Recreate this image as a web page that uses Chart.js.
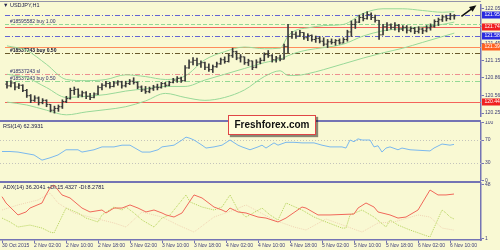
<!DOCTYPE html>
<html>
<head>
<meta charset="utf-8">
<script src="https://cdn.jsdelivr.net/npm/chart.js@4.4.1/dist/chart.umd.min.js"></script>
<style>
  html, body { margin: 0; padding: 0; }
  body { width: 500px; height: 250px; overflow: hidden; position: relative; background: #f9f9d3; }
  .pane { position: absolute; left: 0; width: 500px; }
  .sep { position: absolute; left: 0; width: 481px; height: 2px; background: #7474b4; }
  #wm {
    position: absolute; left: 228px; top: 115px; width: 88px; height: 20px; box-sizing: border-box;
    border: 1.5px solid #e04646; background: #fffedc; box-shadow: 2px 2px 1px rgba(0,0,0,0.45);
    font: bold 10px "Liberation Sans", Arial, sans-serif; line-height: 17px; text-align: center; color: #111;
  }
</style>
</head>
<body>
<div class="pane" style="top:0;height:121px"><canvas id="mainChart"></canvas></div>
<div class="pane" style="top:121px;height:61px"><canvas id="rsiChart"></canvas></div>
<div class="pane" style="top:182px;height:68px"><canvas id="adxChart"></canvas></div>
<div style="position:absolute;left:0;top:1px;width:481px;height:1px;background:#9494aa"></div>
<div class="sep" style="top:120px"></div>
<div class="sep" style="top:181px"></div>
<div id="wm">Freshforex.com</div>
<script>
// --- data ---
const timeLabels = ['30 Oct 2015', '2 Nov 02:00', '2 Nov 10:00', '2 Nov 18:00', '3 Nov 02:00', '3 Nov 10:00',
  '3 Nov 18:00', '4 Nov 02:00', '4 Nov 10:00', '4 Nov 18:00', '5 Nov 02:00', '5 Nov 10:00', '5 Nov 18:00',
  '6 Nov 02:00', '6 Nov 10:00'];
const timeTickIdx = [0, 8, 16, 24, 32, 40, 48, 56, 64, 72, 80, 88, 96, 104, 112];
const priceTicks = [122.05, 121.75, 121.45, 121.15, 120.86, 120.56, 120.25];

// H1 bars: [open, high, low, close]
const candles = [
  [120.75,120.80,120.68,120.72],[120.72,120.81,120.70,120.77],[120.77,120.78,120.65,120.70],[120.70,120.76,120.67,120.73],
  [120.73,120.74,120.62,120.64],[120.64,120.66,120.52,120.55],[120.55,120.57,120.43,120.47],[120.47,120.55,120.45,120.51],
  [120.51,120.53,120.39,120.43],[120.43,120.50,120.41,120.47],[120.47,120.48,120.36,120.40],[120.40,120.40,120.27,120.30],
  [120.30,120.37,120.25,120.33],[120.33,120.39,120.28,120.36],[120.36,120.48,120.33,120.45],[120.45,120.54,120.43,120.50],
  [120.50,120.68,120.49,120.64],[120.64,120.70,120.57,120.66],[120.66,120.67,120.52,120.56],[120.56,120.63,120.53,120.60],
  [120.60,120.62,120.50,120.54],[120.54,120.59,120.48,120.52],[120.52,120.60,120.51,120.58],[120.58,120.72,120.57,120.69],
  [120.69,120.76,120.65,120.73],[120.73,120.80,120.70,120.76],[120.76,120.78,120.68,120.71],[120.71,120.80,120.70,120.77],
  [120.77,120.81,120.73,120.79],[120.79,120.80,120.68,120.72],[120.72,120.80,120.70,120.76],[120.76,120.83,120.74,120.80],
  [120.80,120.86,120.75,120.78],[120.78,120.79,120.67,120.70],[120.70,120.72,120.62,120.65],[120.65,120.71,120.59,120.62],
  [120.62,120.70,120.60,120.67],[120.67,120.73,120.64,120.70],[120.70,120.75,120.65,120.69],[120.69,120.78,120.68,120.76],
  [120.76,120.78,120.70,120.73],[120.73,120.80,120.72,120.78],[120.78,120.85,120.77,120.82],[120.82,120.88,120.78,120.85],
  [120.85,120.87,120.78,120.81],[120.81,121.07,120.80,121.03],[121.03,121.17,121.02,121.13],[121.13,121.21,121.08,121.16],
  [121.16,121.20,121.07,121.10],[121.10,121.15,121.04,121.12],[121.12,121.13,121.00,121.04],[121.04,121.10,120.97,121.00],
  [121.00,121.08,120.95,121.05],[121.05,121.13,121.04,121.10],[121.10,121.20,121.09,121.17],[121.17,121.22,121.11,121.14],
  [121.14,121.27,121.13,121.24],[121.24,121.37,121.21,121.31],[121.31,121.32,121.17,121.20],[121.20,121.26,121.13,121.22],
  [121.22,121.22,121.09,121.12],[121.12,121.18,121.07,121.15],[121.15,121.15,121.00,121.04],[121.04,121.17,121.03,121.13],
  [121.13,121.20,121.10,121.16],[121.16,121.29,121.15,121.26],[121.26,121.33,121.21,121.24],[121.24,121.26,121.13,121.17],
  [121.17,121.23,121.13,121.20],[121.20,121.25,121.15,121.18],[121.18,121.44,121.18,121.40],[121.40,121.78,121.29,121.57],
  [121.57,121.66,121.54,121.61],[121.61,121.65,121.54,121.58],[121.58,121.68,121.57,121.64],[121.64,121.64,121.52,121.55],
  [121.55,121.62,121.50,121.59],[121.59,121.60,121.49,121.52],[121.52,121.58,121.47,121.54],[121.54,121.57,121.46,121.49],
  [121.49,121.55,121.41,121.44],[121.44,121.52,121.38,121.48],[121.48,121.53,121.44,121.47],[121.47,121.52,121.42,121.50],
  [121.50,121.53,121.44,121.46],[121.46,121.55,121.46,121.52],[121.52,121.68,121.49,121.65],[121.65,121.84,121.57,121.78],
  [121.78,121.87,121.71,121.82],[121.82,121.94,121.81,121.90],[121.90,121.97,121.84,121.88],[121.88,122.00,121.87,121.95],
  [121.95,121.98,121.86,121.90],[121.90,121.94,121.82,121.85],[121.85,121.85,121.52,121.60],[121.60,121.78,121.60,121.74],
  [121.74,121.81,121.67,121.77],[121.77,121.79,121.70,121.73],[121.73,121.81,121.68,121.76],[121.76,121.78,121.65,121.70],
  [121.70,121.76,121.67,121.73],[121.73,121.76,121.63,121.68],[121.68,121.74,121.65,121.71],[121.71,121.73,121.62,121.66],
  [121.66,121.74,121.63,121.70],[121.70,121.72,121.62,121.67],[121.67,121.76,121.65,121.72],[121.72,121.79,121.68,121.75],
  [121.75,121.86,121.73,121.83],[121.83,121.89,121.76,121.86],[121.86,121.94,121.83,121.91],[121.91,121.94,121.84,121.88],
  [121.88,121.97,121.86,121.93],[121.93,121.95,121.87,121.93]
];

// Bollinger bands, read at some bars
const bandIdx = [0, 5, 10, 15, 20, 25, 30, 35, 40, 45, 50, 55, 60, 65, 69, 71, 73, 76, 80, 85, 90, 95, 100, 105, 110, 113];
const bandUpper = [121.41,121.33,121.09,120.83,120.81,120.83,120.91,120.88,120.83,120.89,121.17,121.31,121.39,121.36,121.37,121.58,121.68,121.72,121.76,121.78,121.97,122.05,122.05,122.02,121.99,122.00];
const bandMiddle = [120.92,120.86,120.69,120.52,120.54,120.57,120.63,120.67,120.71,120.71,120.82,120.92,121.02,121.12,121.18,121.24,121.29,121.34,121.38,121.44,121.58,121.67,121.71,121.74,121.78,121.82];
const bandLower = [120.44,120.39,120.30,120.22,120.27,120.31,120.36,120.46,120.59,120.52,120.47,120.52,120.65,120.88,120.98,120.90,120.90,120.93,121.00,121.10,121.20,121.29,121.37,121.47,121.57,121.63];

// horizontal levels and order labels
const levelValues = [121.95, 121.78, 121.74, 121.58, 121.39, 121.28, 120.92, 120.80, 120.44];
const orderNotes = ['#18595582 buy 1.00', '#18537243 buy 0.50', '#18537243 sl', '#18537243 buy 0.50'];
const orderNoteLevels = [121.78, 121.28, 120.92, 120.80];
const priceTags = [121.95, 121.74, 121.58, 121.39, 120.44];

// RSI(14)
const rsiTicks = [100, 70, 30, 0];
const rsiLevels = [70, 30];
const rsiIdx = [0,2,4,8,10,12,14,16,19,20,23,25,28,30,32,35,37,39,40,42,43,45,46,47,48,50,51,53,55,57,59,60,62,64,65,66,68,69,71,73,75,78,80,82,85,86,87,88,89,90,92,93,94,95,96,97,99,100,102,107,108,110,112,113];
const rsiValues = [50,50,49,44,35,39,44,53,53,49,53,58,58,61,61,49,49,53,58,60,61,70,75,73,70,61,56,58,61,70,61,58,53,58,61,56,65,61,66,66,65,65,61,58,58,56,70,67,72,70,70,58,60,49,56,58,53,56,53,51,56,63,61,62.39];

// ADX(14)
const adxTicks = [48, 1];
const adxIdx = [0,1,4,6,7,10,11,12,13,14,15,17,20,22,25,26,28,30,32,34,36,38,40,41,43,45,48,50,53,55,56,57,59,61,64,66,69,71,75,76,79,82,88,89,91,93,94,97,99,101,104,107,109,111,113];
const adxValues = [37.4,31.9,21.5,24.1,27.5,31.9,38.9,45,47.6,43.2,38.9,36.3,27.5,24.1,25.8,23.2,27.5,27.5,30.2,27.5,24.1,25.8,23.2,21.5,19.7,23.2,38.9,36.3,28.4,25.8,24.1,27.5,24.1,23.2,19.7,18.8,15.4,18.8,28.4,27.5,21.5,21.5,22.3,27.5,31.9,28.4,24.1,21.5,18.8,19.7,25.8,43.2,38.9,38.9,39.7];
const pdiIdx = [0,2,4,7,10,12,13,16,19,21,24,25,28,30,31,33,35,38,40,42,46,47,50,53,55,57,59,61,65,67,69,71,75,78,81,85,86,87,90,93,96,97,99,102,107,110,111,112,113];
const pdiValues = [18.8,15.4,11,12.7,10.1,6.6,5.8,27.5,23.2,18.8,15.4,21.5,28.4,25.8,28.4,23.2,17.1,11,18.8,21.5,38.9,32.8,28.4,25.8,28.4,38.9,25.8,19.7,27.5,21.5,17.1,31.9,25.8,19.7,15.4,10.1,10.1,21.5,25.8,19.7,11,17.1,12.7,8.4,2.3,25.8,23.2,19.7,18];
const mdiIdx = [0,4,9,12,14,18,23,28,31,35,40,44,48,53,58,61,68,73,76,81,90,94,98,104,107,110,113];
const mdiValues = [25.8,30.2,34.5,40.6,31.9,23.2,18.8,14.5,11,24.1,19.7,12.7,6.6,19.7,25.8,30.2,17.1,11,8.4,18,6.6,14.5,15.4,21.5,19.7,10.1,8.28];

// --- styles ---
const FONT = '"Liberation Sans", Arial, sans-serif';
const axisColor = '#7474b4';
const levelStyles = [
  { color: '#6464d4', dash: [5, 2, 1, 2] },
  { color: '#94d894', dash: [4, 2] },
  { color: '#f4645a', dash: [] },
  { color: '#6464d4', dash: [5, 2, 1, 2] },
  { color: '#ff8c5c', dash: [] },
  { color: '#6a5a2c', dash: [5, 2, 1, 2] },
  { color: '#ee9090', dash: [5, 2, 1, 2] },
  { color: '#94d894', dash: [5, 2, 1, 2] },
  { color: '#f4645a', dash: [] }
];
const noteStyles = [
  { color: '#30306a', bold: false },
  { color: '#10102a', bold: true },
  { color: '#30306a', bold: false },
  { color: '#30306a', bold: false }
];
const tagColors = ['#2a2ae0', '#f02020', '#2a2ae0', '#ff6020', '#f02020'];

Chart.defaults.font.family = FONT;
Chart.defaults.font.size = 5;
Chart.defaults.color = '#3c3c78';

const xRange = { type: 'linear', min: -0.5, max: 119.75, offset: false, display: false };
const pairs = (xs, ys) => xs.map((x, k) => ({ x: x, y: ys[k] }));

function rightAxis(min, max, tickVals, fmt) {
  return {
    position: 'right', min: min, max: max, beginAtZero: false,
    afterBuildTicks: s => { s.ticks = tickVals.map(v => ({ value: v })); },
    afterFit: s => { s.width = 19; s.paddingTop = 0; s.paddingBottom = 0; },
    grid: { drawOnChartArea: false, tickLength: 3, tickColor: axisColor },
    border: { display: true, color: axisColor, width: 1.5 },
    ticks: { autoSkip: false, padding: 1, callback: fmt }
  };
}

const paneDecor = {
  id: 'paneDecor',
  beforeDatasetsDraw(chart, args, o) {
    const { ctx, chartArea: a, scales: { y } } = chart;
    ctx.save();
    (o.levels || []).forEach(l => {
      const py = Math.round(y.getPixelForValue(l.value)) + 0.5;
      ctx.strokeStyle = l.color;
      ctx.lineWidth = 1;
      ctx.setLineDash(l.dash);
      ctx.beginPath();
      ctx.moveTo(a.left, py);
      ctx.lineTo(a.right, py);
      ctx.stroke();
    });
    ctx.setLineDash([]);
    ctx.textBaseline = 'alphabetic';
    (o.notes || []).forEach(n => {
      ctx.fillStyle = n.color;
      ctx.font = (n.bold ? 'bold ' : '') + '5px ' + FONT;
      ctx.fillText(n.text, a.left + 5, y.getPixelForValue(n.value) - 1);
    });
    ctx.restore();
  },
  afterDraw(chart, args, o) {
    const { ctx, chartArea: a, scales: { x, y } } = chart;
    ctx.save();
    (o.tags || []).forEach(t => {
      const py = Math.round(y.getPixelForValue(t.value));
      ctx.fillStyle = t.color;
      ctx.fillRect(a.right + 1, py - 3.5, chart.width - a.right - 1, 7);
      ctx.fillStyle = '#ffffff';
      ctx.font = '5px ' + FONT;
      ctx.textBaseline = 'middle';
      ctx.fillText(t.value.toFixed(2), a.right + 3.5, py);
    });
    if (o.caption) {
      ctx.fillStyle = '#20204a';
      ctx.font = '5.5px ' + FONT;
      ctx.textBaseline = 'middle';
      ctx.fillText(o.caption, 3, o.captionY);
    }
    if (o.arrow) {
      const x1 = x.getPixelForValue(o.arrow[0]), y1 = y.getPixelForValue(o.arrow[1]);
      const x2 = x.getPixelForValue(o.arrow[2]), y2 = y.getPixelForValue(o.arrow[3]);
      const ang = Math.atan2(y2 - y1, x2 - x1);
      ctx.strokeStyle = '#101010';
      ctx.fillStyle = '#101010';
      ctx.lineWidth = 1.6;
      ctx.beginPath();
      ctx.moveTo(x1, y1);
      ctx.lineTo(x2 - 4 * Math.cos(ang), y2 - 4 * Math.sin(ang));
      ctx.stroke();
      ctx.beginPath();
      ctx.moveTo(x2, y2);
      ctx.lineTo(x2 - 7 * Math.cos(ang) + 3 * Math.sin(ang), y2 - 7 * Math.sin(ang) - 3 * Math.cos(ang));
      ctx.lineTo(x2 - 7 * Math.cos(ang) - 3 * Math.sin(ang), y2 - 7 * Math.sin(ang) + 3 * Math.cos(ang));
      ctx.closePath();
      ctx.fill();
    }
    ctx.restore();
  }
};

const baseOpts = {
  responsive: true, maintainAspectRatio: false, animation: false, events: [], devicePixelRatio: 1,
};

// 1. Price pane: OHLC bars + Bollinger bands
const barColor = '#3a3a3a';
new Chart(document.getElementById('mainChart'), {
  type: 'bar',
  data: {
    datasets: [
      { type: 'bar', data: candles.map((c, i) => ({ x: i, y: [c[2], c[1]] })), backgroundColor: barColor,
        barThickness: 1, borderWidth: 0 },
      { type: 'line', data: candles.map((c, i) => ({ x: i - 0.25, y: c[0] })), showLine: false,
        pointStyle: 'line', pointRadius: 0.8, pointBorderWidth: 1, borderColor: barColor, pointBorderColor: barColor },
      { type: 'line', data: candles.map((c, i) => ({ x: i + 0.25, y: c[3] })), showLine: false,
        pointStyle: 'line', pointRadius: 0.8, pointBorderWidth: 1, borderColor: barColor, pointBorderColor: barColor },
      { type: 'line', data: pairs(bandIdx, bandUpper), borderColor: '#98d898', borderWidth: 1, pointRadius: 0, cubicInterpolationMode: 'monotone' },
      { type: 'line', data: pairs(bandIdx, bandMiddle), borderColor: '#98d898', borderWidth: 1, pointRadius: 0, cubicInterpolationMode: 'monotone' },
      { type: 'line', data: pairs(bandIdx, bandLower), borderColor: '#98d898', borderWidth: 1, pointRadius: 0, cubicInterpolationMode: 'monotone' }
    ]
  },
  options: {
    ...baseOpts,
    layout: { padding: { top: 1, bottom: 1, left: 0, right: 0 } },
    scales: {
      x: xRange,
      y: rightAxis(120.2, 122.115, priceTicks, v => v.toFixed(2))
    },
    plugins: {
      legend: { display: false }, tooltip: { enabled: false },
      paneDecor: {
        levels: levelValues.map((v, k) => ({ value: v, ...levelStyles[k] })),
        notes: orderNotes.map((t, k) => ({ text: t, value: orderNoteLevels[k], ...noteStyles[k] })),
        tags: priceTags.map((v, k) => ({ value: v, color: tagColors[k] })),
        caption: '\u25BC USDJPY,H1', captionY: 5.5,
        arrow: [114.8, 121.92, 118.6, 122.11]
      }
    }
  },
  plugins: [paneDecor]
});

// 2. RSI pane
new Chart(document.getElementById('rsiChart'), {
  type: 'line',
  data: {
    datasets: [
      { data: pairs(rsiIdx, rsiValues), borderColor: '#7ab8ee', borderWidth: 1, pointRadius: 0, tension: 0 }
    ]
  },
  options: {
    ...baseOpts,
    layout: { padding: { top: 1.75, bottom: 1.75, left: 0, right: 0 } },
    scales: {
      x: xRange,
      y: rightAxis(0, 100, rsiTicks, v => String(v))
    },
    plugins: {
      legend: { display: false }, tooltip: { enabled: false },
      paneDecor: {
        levels: rsiLevels.map(v => ({ value: v, color: '#c4c4bc', dash: [1, 2] })),
        caption: 'RSI(14) 62.3931', captionY: 5
      }
    }
  },
  plugins: [paneDecor]
});

// 3. ADX pane with time axis
new Chart(document.getElementById('adxChart'), {
  type: 'line',
  data: {
    datasets: [
      { data: pairs(adxIdx, adxValues), borderColor: '#f0685a', borderWidth: 1, pointRadius: 0 },
      { data: pairs(pdiIdx, pdiValues), borderColor: '#b4d25a', borderWidth: 1, borderDash: [1, 1], pointRadius: 0 },
      { data: pairs(mdiIdx, mdiValues), borderColor: '#f0d4b4', borderWidth: 1, borderDash: [1, 1], pointRadius: 0 }
    ]
  },
  options: {
    ...baseOpts,
    layout: { padding: { top: 1, bottom: 0, left: 0, right: 0 } },
    scales: {
      x: {
        type: 'linear', min: -0.5, max: 119.75, offset: false, position: 'bottom',
        afterBuildTicks: s => { s.ticks = timeTickIdx.map(v => ({ value: v })); },
        afterFit: s => { s.height = 10; s.paddingLeft = 0; s.paddingRight = 0; },
        grid: { drawOnChartArea: false, tickLength: 3, tickColor: axisColor },
        border: { display: true, color: axisColor, width: 1.5 },
        ticks: { autoSkip: false, maxRotation: 0, align: 'start', padding: 0,
          callback: v => timeLabels[timeTickIdx.indexOf(v)] }
      },
      y: rightAxis(-0.3, 49.3, adxTicks, v => String(v))
    },
    plugins: {
      legend: { display: false }, tooltip: { enabled: false },
      paneDecor: {
        caption: 'ADX(14) 36.2041 +DI:15.4327 -DI:8.2781', captionY: 5
      }
    }
  },
  plugins: [paneDecor]
});
</script>
</body>
</html>
